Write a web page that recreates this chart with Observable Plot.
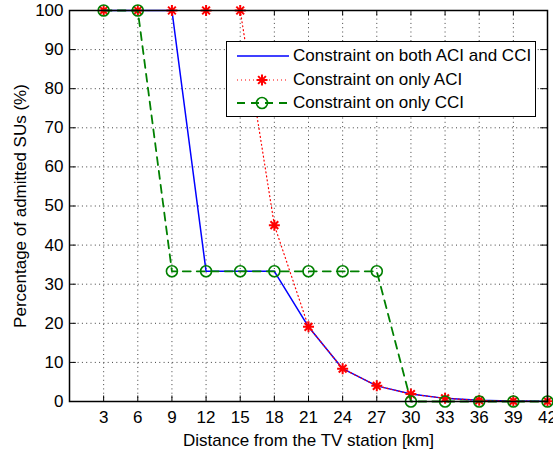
<!DOCTYPE html>
<html><head><meta charset="utf-8">
<script src="https://cdn.jsdelivr.net/npm/d3@7"></script>
<script src="https://cdn.jsdelivr.net/npm/@observablehq/plot@0.6"></script>
<style>
body{margin:0;background:#fff;}
#wrap{position:relative;width:553px;height:451px;font-family:"Liberation Sans",Arial,sans-serif;}
#legend{position:absolute;left:226px;top:41px;width:308px;height:74px;border:1px solid #000;background:#fff;font-size:17px;}
.row{position:absolute;left:0;height:20px;display:flex;align-items:center;}
.row svg{display:block;}
.row span{margin-left:4px;white-space:nowrap;color:#000;}
</style></head><body><div id="wrap"></div>
<script>
const distances = [3, 6, 9, 12, 15, 18, 21, 24, 27, 30, 33, 36, 39, 42];
const bothACIandCCI = [100, 100, 100, 33.3, 33.3, 33.3, 19.1, 8.4, 4.0, 1.9, 0.8, 0.3, 0.1, 0.05];
const onlyACI = [100, 100, 100, 100, 100, 45.1, 19.1, 8.4, 4.0, 1.9, 0.8, 0.3, 0.1, 0.05];
const onlyCCI = [100, 100, 33.3, 33.3, 33.3, 33.3, 33.3, 33.3, 33.3, 0, 0, 0, 0, 0];
const xTicks = [3, 6, 9, 12, 15, 18, 21, 24, 27, 30, 33, 36, 39, 42];
const yTicks = [0, 10, 20, 30, 40, 50, 60, 70, 80, 90, 100];
const seriesNames = ["Constraint on both ACI and CCI", "Constraint on only ACI", "Constraint on only CCI"];

const toRows = ys => distances.map((x, i) => ({x, y: ys[i]}));
const both = toRows(bothACIandCCI), aci = toRows(onlyACI), cci = toRows(onlyCCI);

// 8-armed asterisk like MATLAB's '*'
const star8 = {
  draw(ctx, size) {
    const r = Math.sqrt(size / Math.PI);
    for (let k = 0; k < 4; k++) {
      const a = k * Math.PI / 4;
      const dx = r * Math.cos(a), dy = r * Math.sin(a);
      ctx.moveTo(-dx, -dy);
      ctx.lineTo(dx, dy);
    }
  }
};

const grid = {stroke: "#000", strokeWidth: 1, strokeDasharray: "1,3.3", strokeOpacity: 0.75};
const chart = Plot.plot({
  width: 553, height: 451,
  marginLeft: 69, marginRight: 6, marginTop: 10, marginBottom: 50,
  style: {fontFamily: '"Liberation Sans", Arial, sans-serif', fontSize: "17px", background: "#fff", color: "#000"},
  x: {domain: [0, 42]},
  y: {domain: [0, 100]},
  marks: [
    Plot.ruleX(xTicks.filter(d => d < 42), {...grid}),
    Plot.ruleY(yTicks.filter(d => d > 0 && d < 100), {...grid}),
    Plot.ruleX(xTicks, {x: d => d, y1: 0, y2: 1.4, stroke: "#000"}),
    Plot.ruleX(xTicks, {x: d => d, y1: 98.6, y2: 100, stroke: "#000"}),
    Plot.ruleY(yTicks, {y: d => d, x1: 0, x2: 0.6, stroke: "#000"}),
    Plot.ruleY(yTicks, {y: d => d, x1: 41.4, x2: 42, stroke: "#000"}),
    Plot.line(both, {x: "x", y: "y", stroke: "#0000ff", strokeWidth: 1.5}),
    Plot.line(aci, {x: "x", y: "y", stroke: "#ff0000", strokeWidth: 1.2, strokeDasharray: "1,3"}),
    Plot.dot(aci, {x: "x", y: "y", symbol: star8, r: 5.5, stroke: "#ff0000", strokeWidth: 2}),
    Plot.line(cci, {x: "x", y: "y", stroke: "#008000", strokeWidth: 1.8, strokeDasharray: "8,6"}),
    Plot.dot(cci, {x: "x", y: "y", symbol: "circle", r: 5.5, stroke: "#008000", strokeWidth: 1.6, fill: "none"}),
    Plot.frame({stroke: "#000", strokeWidth: 1.5}),
    Plot.axisX({ticks: xTicks, tickSize: 0, tickPadding: 9, fontSize: 17,
      label: "Distance from the TV station [km]", labelAnchor: "center", labelArrow: "none", labelOffset: 44}),
    Plot.axisY({ticks: yTicks, tickSize: 0, tickPadding: 6, fontSize: 17,
      label: "Percentage of admitted SUs (%)", labelAnchor: "center", labelArrow: "none", labelOffset: 56})
  ]
});
const wrap = document.getElementById("wrap");
wrap.appendChild(chart);

// legend
const legend = document.createElement("div");
legend.id = "legend";
const styles = [
  {stroke: "#0000ff", dash: null, sw: 1.5, marker: null},
  {stroke: "#ff0000", dash: "1,3", sw: 1.2, marker: "asterisk"},
  {stroke: "#008000", dash: "8,6", sw: 1.8, marker: "circle"}
];
const rowTops = [4, 28, 51];
seriesNames.forEach((name, i) => {
  const s = styles[i];
  const row = document.createElement("div");
  row.className = "row";
  row.style.top = rowTops[i] + "px";
  const svg = d3.create("svg").attr("width", 62).attr("height", 20);
  svg.append("line").attr("x1", 10).attr("x2", 62).attr("y1", 10).attr("y2", 10)
    .attr("stroke", s.stroke).attr("stroke-width", s.sw).attr("stroke-dasharray", s.dash);
  if (s.marker === "asterisk") {
    const sym = d3.symbol(star8, Math.PI * 5.5 * 5.5)();
    svg.append("path").attr("d", sym).attr("transform", "translate(35,10)").attr("stroke", s.stroke).attr("stroke-width", 2).attr("fill", "none");
  } else if (s.marker === "circle") {
    svg.append("circle").attr("cx", 35).attr("cy", 10).attr("r", 5.5).attr("stroke", s.stroke).attr("stroke-width", 1.6).attr("fill", "none");
  }
  row.appendChild(svg.node());
  const span = document.createElement("span");
  span.textContent = name;
  row.appendChild(span);
  legend.appendChild(row);
});
wrap.appendChild(legend);
</script></body></html>
